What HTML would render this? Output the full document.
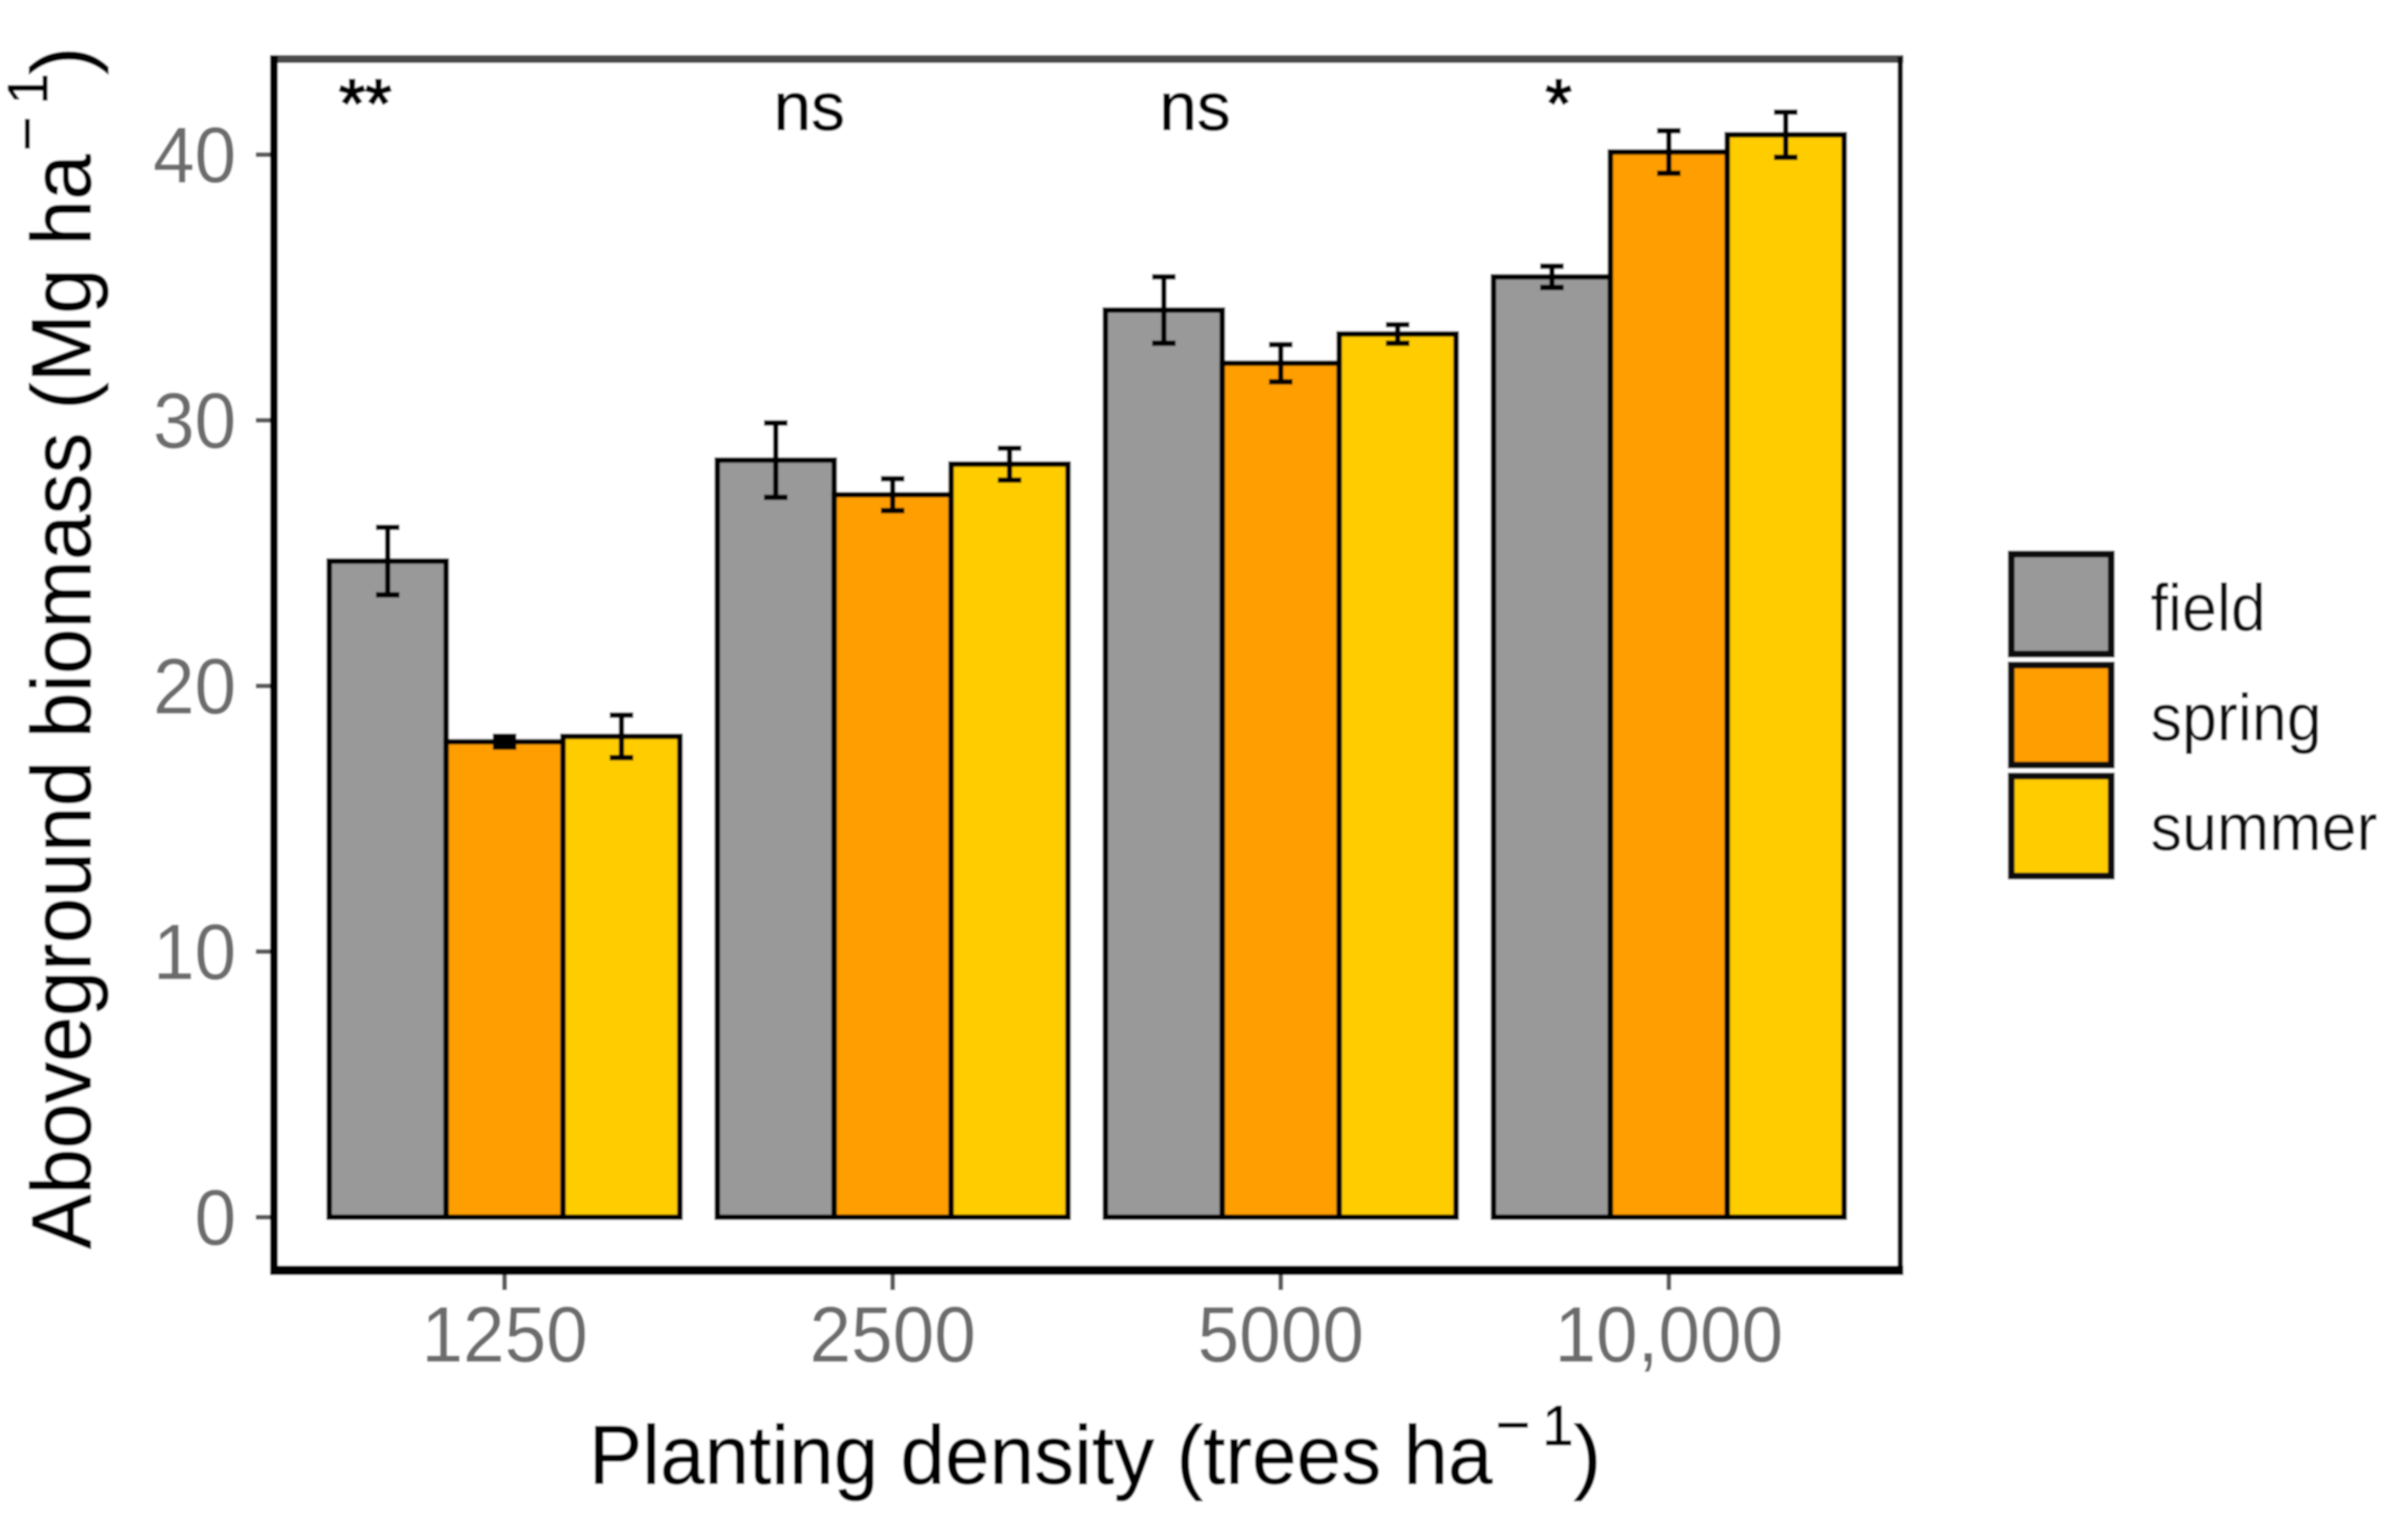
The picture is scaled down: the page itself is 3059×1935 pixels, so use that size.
<!DOCTYPE html>
<html lang="en">
<head>
<meta charset="utf-8">
<title>Aboveground biomass by planting density</title>
<style>
html,body{margin:0;padding:0;background:#fff;width:3059px;height:1935px;overflow:hidden}
svg{display:block}
text{font-family:"Liberation Sans",Arial,sans-serif}
</style>
</head>
<body>
<svg id="chart" xmlns="http://www.w3.org/2000/svg" width="3059" height="1935" viewBox="0 0 3059 1935">
  <defs><filter id="soft" x="-2%" y="-2%" width="104%" height="104%"><feGaussianBlur stdDeviation="1.1"/></filter></defs>
  <g id="root" filter="url(#soft)">
    <rect x="0" y="0" width="3059" height="1935" fill="#fff"/>
    <g id="bars"></g>
    <g id="errors"></g>
    <g id="yaxis"></g>
    <g id="xaxis"></g>
    <g id="sig"></g>
    <g id="legend"></g>
    <line x1="343" x2="2418" y1="75" y2="75" stroke="#4a4a4a" stroke-width="10"/>
    <line x1="2414" x2="2414" y1="72" y2="1620" stroke="#111" stroke-width="7"/>
    <line x1="348" x2="348" y1="70" y2="1620" stroke="#000" stroke-width="10"/>
    <line x1="343" x2="2418" y1="1614" y2="1614" stroke="#000" stroke-width="12"/>
    <g transform="translate(115,1587) rotate(-90)" fill="#000" stroke="#000" stroke-width="0.8">
      <text x="0" y="0" font-size="108" textLength="1391" lengthAdjust="spacingAndGlyphs">Aboveground biomass (Mg ha</text>
      <text x="1395" y="-55" font-size="76">−</text>
      <text x="1454" y="-55" font-size="72">1</text>
      <text x="1492" y="0" font-size="108">)</text>
    </g>
    <g fill="#000" stroke="#000" stroke-width="0.8">
      <text x="748" y="1885" font-size="106" textLength="1148" lengthAdjust="spacingAndGlyphs">Planting density (trees ha</text>
      <text x="1900" y="1836" font-size="76">−</text>
      <text x="1959" y="1836" font-size="72">1</text>
      <text x="1999" y="1885" font-size="106">)</text>
    </g>
  </g>
</svg>
<script>
const categories = ['1250', '2500', '5000', '10,000'];
const seriesNames = ['field', 'spring', 'summer'];
const fieldValues = [24.7, 28.5, 34.15, 35.4];
const springValues = [17.9, 27.2, 32.15, 40.1];
const summerValues = [18.1, 28.35, 33.25, 40.75];
const fieldErrors = [1.27, 1.4, 1.25, 0.4];
const springErrors = [0.2, 0.6, 0.7, 0.8];
const summerErrors = [0.8, 0.6, 0.35, 0.85];
const yTicks = [0, 10, 20, 30, 40];
const sigLabels = ['**', 'ns', 'ns', '*'];

const seriesValues = [fieldValues, springValues, summerValues];
const seriesErrors = [fieldErrors, springErrors, summerErrors];
const seriesColors = ['#999999', '#FF9E00', '#FFCC00'];
const NS = 'http://www.w3.org/2000/svg';

function yScale(v) { return 1546.5 - v * 33.75; }
function groupCenter(i) { return 641 + i * 493; }
const barWidth = 148.5;
function barLeft(g, s) { return groupCenter(g) + (s - 1.5) * barWidth; }
function make(tag, attrs, parent, txt) {
  const el = document.createElementNS(NS, tag);
  for (const k in attrs) el.setAttribute(k, attrs[k]);
  if (txt !== undefined) el.textContent = txt;
  parent.appendChild(el);
  return el;
}
function squeeze(el) {
  el.setAttribute('textLength', el.getComputedTextLength() * 0.95);
  el.setAttribute('lengthAdjust', 'spacingAndGlyphs');
}
const barsG = document.getElementById('bars');
const errG = document.getElementById('errors');
const yG = document.getElementById('yaxis');
const xG = document.getElementById('xaxis');
const sigG = document.getElementById('sig');
const legG = document.getElementById('legend');

seriesNames.forEach(function (name, s) {
  categories.forEach(function (cat, g) {
    const v = seriesValues[s][g];
    const e = seriesErrors[s][g];
    const bar = make('rect', {x: barLeft(g, s), y: yScale(v), width: barWidth, height: yScale(0) - yScale(v), fill: seriesColors[s], stroke: '#050505', 'stroke-width': 7}, barsG);
    
    
    const cx = barLeft(g, s) + barWidth / 2;
    const err = make('path', {d: 'M' + (cx - 15) + ' ' + yScale(v + e) + 'H' + (cx + 15) + 'M' + cx + ' ' + yScale(v + e) + 'V' + yScale(v - e) + 'M' + (cx - 15) + ' ' + yScale(v - e) + 'H' + (cx + 15), fill: 'none', stroke: '#050505', 'stroke-width': 7}, errG);
    
    
  });
});

yTicks.forEach(function (t) {
  const tick = make('line', {x1: 325, x2: 348, y1: yScale(t), y2: yScale(t), stroke: '#5a5a5a', 'stroke-width': 6}, yG);
  
  
  const label = make('text', {x: 300, y: yScale(t) + 35, 'text-anchor': 'end', 'font-size': 100, fill: '#6c6c6c'}, yG, String(t));
  
  
  squeeze(label);
});

categories.forEach(function (cat, g) {
  const c = groupCenter(g);
  const tick = make('line', {x1: c, x2: c, y1: 1614, y2: 1639, stroke: '#5a5a5a', 'stroke-width': 6}, xG);
  
  
  const label = make('text', {x: c, y: 1730, 'text-anchor': 'middle', 'font-size': 100, fill: '#6c6c6c'}, xG, cat);
  
  
  squeeze(label);
  const offs = [-177, -106, -109, -140];
  const sigY = sigLabels[g] === 'ns' ? 165 : 161;
  const sig = make('text', {x: c + offs[g], y: sigY, 'text-anchor': 'middle', 'font-size': 86, fill: '#000', stroke: '#000', 'stroke-width': sigLabels[g] === 'ns' ? 1 : 2.5}, sigG, sigLabels[g]);
  
  
});

seriesNames.forEach(function (name, s) {
  const top = 704 + s * 141;
  const key = make('rect', {x: 2555, y: top, width: 127, height: 127, fill: seriesColors[s], stroke: '#101010', 'stroke-width': 8.5}, legG);
  
  
  const label = make('text', {x: 2732, y: 801 + s * 139.5, 'font-size': 84, fill: '#111'}, legG, name);
  
  
  squeeze(label);
});
</script>
</body>
</html>
